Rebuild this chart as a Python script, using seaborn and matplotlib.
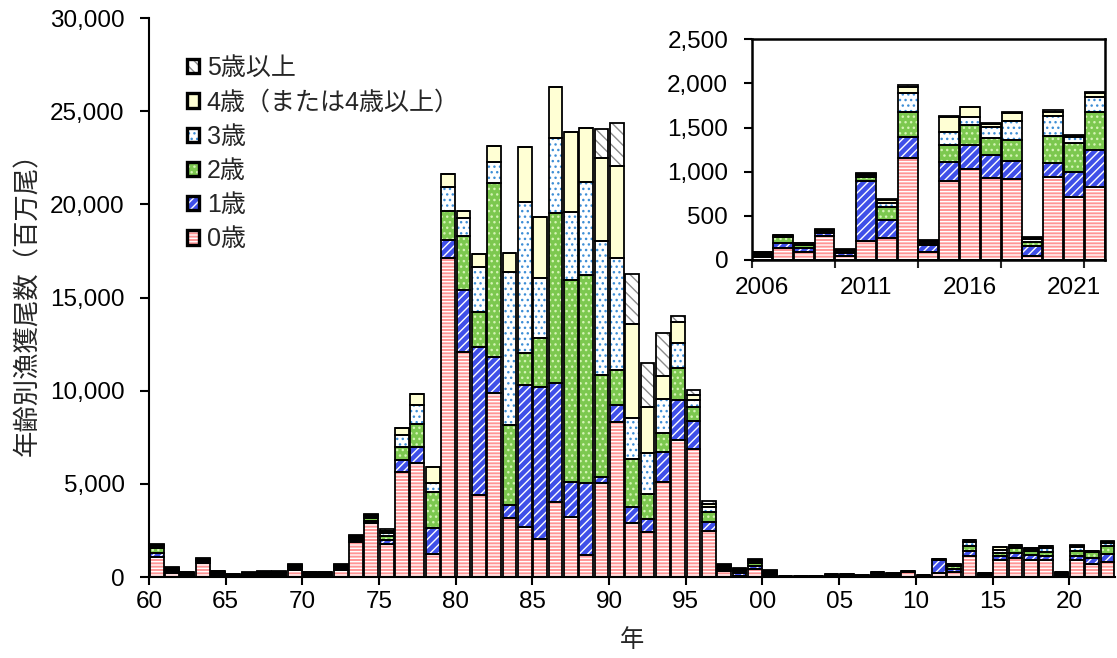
import numpy as np
import pandas as pd
import matplotlib
matplotlib.use("Agg")
import matplotlib.pyplot as plt
import seaborn as sns
from matplotlib.patches import Patch
from matplotlib.ticker import StrMethodFormatter

# catch at age (million fish)
years = list(range(1960, 2023))
age0 = [1050, 200, 60, 770, 80, 30, 50, 60, 60, 375,
        60, 60, 375, 1900, 2880, 1750, 5650, 6100, 1216, 17100,
        12090, 4400, 9890, 3150, 2700, 2020, 4040, 3240, 1180, 5030,
        8340, 2880, 2430, 5115, 7350, 6850, 2490, 315, 40, 445,
        60, 15, 15, 15, 40, 40, 30, 132, 94, 272,
        45, 219, 246, 1152, 94, 895, 1031, 925, 914, 49,
        937, 718, 823]
age1 = [260, 100, 70, 80, 80, 40, 60, 70, 70, 100,
        70, 70, 100, 100, 150, 250, 630, 895, 1434, 990,
        3310, 7960, 1930, 715, 7600, 8160, 6390, 1875, 3850, 350,
        890, 860, 670, 1575, 2150, 1540, 480, 100, 150, 150,
        80, 15, 15, 15, 40, 40, 20, 57, 46, 38,
        30, 680, 207, 238, 76, 219, 272, 265, 212, 110,
        166, 275, 423]
age2 = [260, 80, 60, 60, 70, 35, 50, 65, 60, 80,
        60, 60, 80, 80, 120, 200, 715, 1200, 1930, 1550,
        2900, 1880, 9310, 4295, 1700, 2670, 9090, 10825, 11180, 5460,
        1880, 2590, 1340, 1020, 1700, 750, 500, 100, 110, 130,
        70, 15, 15, 15, 30, 30, 15, 68, 25, 15,
        20, 40, 144, 291, 25, 189, 227, 189, 234, 45,
        302, 337, 435]
age3 = [100, 60, 45, 40, 50, 25, 40, 50, 50, 60,
        45, 45, 60, 70, 100, 150, 625, 1035, 450, 1310,
        950, 2410, 1160, 8230, 8140, 3220, 4030, 3670, 5010, 7190,
        5990, 2220, 2200, 1840, 1340, 350, 270, 80, 90, 110,
        60, 10, 10, 10, 20, 20, 12, 13, 15, 10,
        13, 25, 50, 215, 15, 151, 87, 132, 219, 30,
        227, 67, 162]
age4 = [60, 50, 30, 30, 40, 20, 30, 40, 40, 40,
        30, 30, 40, 60, 80, 130, 360, 590, 890, 680,
        410, 685, 860, 1010, 2960, 3270, 2750, 4270, 2880, 4470,
        4980, 5010, 2500, 1250, 1160, 300, 200, 70, 60, 80,
        50, 10, 10, 10, 15, 15, 10, 8, 10, 8,
        8, 12, 30, 68, 10, 170, 113, 30, 83, 20,
        49, 12, 53]
age5 = [40, 30, 20, 20, 20, 10, 20, 20, 20, 25,
        20, 20, 25, 40, 50, 95, 0, 0, 0, 0,
        0, 0, 0, 0, 0, 0, 0, 0, 0, 1560,
        2290, 2680, 2330, 2310, 300, 250, 160, 45, 45, 65,
        30, 5, 5, 5, 10, 10, 7, 5, 6, 4,
        5, 6, 14, 19, 7, 8, 7, 15, 19, 10,
        19, 7, 11]

labels = ["0歳", "1歳", "2歳", "3歳", "4歳（または4歳以上）", "5歳以上"]
faces = ["#ff9595", "#3f4fe8", "#7cc84f", "#ffffff", "#ffffd4", "#ffffff"]
hatch_cols = ["#ffffff", "#ffffff", "#d4f4b4", "#3f8fd6", "#ffffd4", "#8c8c8c"]
hatches = ["-----", "////", "...", "...", None, "\\\\\\"]

df = pd.DataFrame({"year": years})
for lab, vals in zip(labels, [age0, age1, age2, age3, age4, age5]):
    df[lab] = vals

sns.set_style("ticks")
plt.rcParams["font.family"] = ["Liberation Sans", "Noto Sans CJK JP"]
plt.rcParams["hatch.linewidth"] = 1.0
plt.rcParams["axes.linewidth"] = 1.5


def draw_stack(ax, data, width, lw):
    x = data["year"].values + (1 - width) / 2
    bottom = np.zeros(len(data))
    stacks = []
    for lab, fc, hc, h in zip(labels, faces, hatch_cols, hatches):
        vals = data[lab].values.astype(float)
        ax.bar(x, vals, width, bottom=bottom, align="edge", color=fc,
               edgecolor=hc, hatch=h, linewidth=0)
        stacks.append((vals, bottom.copy()))
        bottom += vals
    # outlines drawn last so fills don't cover them
    for vals, bot in stacks:
        ax.bar(x, vals, width, bottom=bot, align="edge", fill=False,
               edgecolor="black", linewidth=lw)


fig = plt.figure(figsize=(11.17, 6.58), dpi=100)
ax = fig.add_axes([0.1334, 0.1231, 0.8650, 0.8495])
draw_stack(ax, df, 0.9, 1.3)

ax.set_xlim(1960, 2023)
ax.set_ylim(0, 30000)
ax.set_yticks(range(0, 30001, 5000))
ax.yaxis.set_major_formatter(StrMethodFormatter("{x:,.0f}"))
xt = list(range(1960, 2021, 5))
ax.set_xticks(xt)
ax.set_xticklabels([f"{y % 100:02d}" for y in xt])
ax.tick_params(axis="y", direction="out", length=6.5, width=1.5, pad=11,
               labelsize=17.5, colors="black")
ax.tick_params(axis="x", direction="out", length=6, width=1.5, pad=4,
               labelsize=17.5, colors="black")
ax.set_xlabel("年", fontsize=17.5, labelpad=12)
ax.set_ylabel("年齢別漁獲尾数（百万尾）", fontsize=19, labelpad=7)
sns.despine(ax=ax)
for s in ["left", "bottom"]:
    ax.spines[s].set_color("black")

handles = []
for fc, hc, h in zip(faces, hatch_cols, hatches):
    handles.append((Patch(facecolor=fc, edgecolor=hc, hatch=h, linewidth=0),
                    Patch(fill=False, edgecolor="black", linewidth=2.4)))
leg = ax.legend(handles[::-1], labels[::-1], loc="upper left",
                bbox_to_anchor=(0.039, 0.932), frameon=False, fontsize=18,
                handlelength=0.5, handleheight=0.5, handletextpad=0.3,
                labelspacing=0.41, borderaxespad=0, borderpad=0)

# inset for recent years
ins = fig.add_axes([0.673, 0.6049, 0.3163, 0.3354])
ins.set_facecolor("white")
draw_stack(ins, df[df["year"] >= 2006], 0.96, 1.3)
ins.set_xlim(2006, 2023)
ins.set_ylim(0, 2500)
ins.set_yticks(range(0, 2501, 500))
ins.yaxis.set_major_formatter(StrMethodFormatter("{x:,.0f}"))
ins.set_xticks([2006, 2010, 2014, 2018, 2022])
ins.set_xticklabels([])
ins.set_xticks([2006.5, 2011.5, 2016.5, 2021.5], minor=True)
ins.set_xticklabels(["2006", "2011", "2016", "2021"], minor=True)
ins.tick_params(axis="y", direction="out", length=6, width=1.5, pad=11,
                labelsize=17.5, colors="black")
ins.tick_params(axis="x", which="major", direction="out", length=6, width=1.5)
ins.tick_params(axis="x", which="minor", length=0, pad=12, labelsize=17.5,
                colors="black")
for s in ins.spines.values():
    s.set_color("black")
    s.set_linewidth(1.8)

fig.savefig("out.png", dpi=100)
